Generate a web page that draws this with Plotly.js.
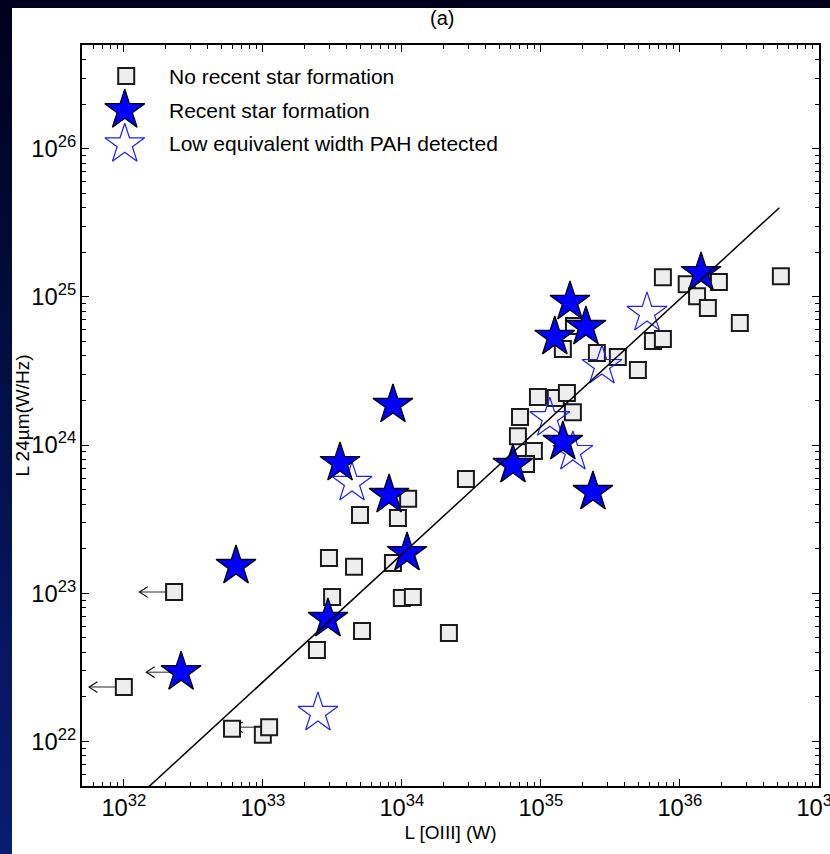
<!DOCTYPE html>
<html>
<head>
<meta charset="utf-8">
<script src="https://cdn.plot.ly/plotly-3.0.1.min.js"></script>
<style>
  html, body { margin: 0; padding: 0; }
  body {
    width: 830px; height: 854px; overflow: hidden; position: relative;
    background: linear-gradient(to bottom, #00001c 0%, #03104a 50%, #0a1c72 100%);
  }
  #chart { position: absolute; left: 12px; top: 8px; width: 818px; height: 846px; background: #fff; }
</style>
</head>
<body>
<div id="chart"></div>
<script>
// L[OIII] (W) and L 24um (W/Hz) per galaxy class
const noSfX = [6.0e32, 1.0e33, 2.45e33, 2.99e33, 3.15e33, 4.53e33, 5.0e33, 5.17e33, 8.63e33,
  9.37e33, 1.11e34, 1.0e34, 1.2e34, 2.18e34, 2.89e34, 7.08e34, 6.84e34, 8.91e34, 7.82e34,
  9.53e34, 1.28e35, 1.54e35, 1.7e35, 1.44e35, 1.73e35, 2.53e35, 3.58e35, 4.99e35, 6.4e35,
  7.55e35, 7.55e35, 1.12e36, 1.91e36, 1.33e36, 1.59e36, 2.7e36, 5.33e36];
const noSfY = [1.22e22, 1.11e22, 4.15e22, 1.73e23, 9.44e22, 1.51e23, 3.38e23, 5.57e22, 1.6e23,
  3.22e23, 4.34e23, 9.3e22, 9.44e22, 5.4e22, 5.92e23, 1.55e24, 1.15e24, 9.12e23, 7.46e23,
  2.11e24, 2.08e24, 2.25e24, 1.67e24, 4.46e24, 6.37e24, 4.19e24, 3.94e24, 3.21e24, 5.05e24,
  5.2e24, 1.36e25, 1.22e25, 1.26e25, 1.01e25, 8.42e24, 6.67e24, 1.38e25];

// no-SF upper limits in L[OIII]
const noSfLimX = [2.3e32, 1.0e32, 1.11e33];
const noSfLimY = [1.02e23, 2.33e22, 1.25e22];

const sfX = [6.41e32, 2.94e33, 3.59e33, 8.09e33, 8.63e33, 1.09e34, 6.3e34, 1.44e35, 2.37e35,
  1.26e35, 1.62e35, 2.11e35, 1.42e36];
const sfY = [1.53e23, 6.72e22, 7.57e23, 4.61e23, 1.87e24, 1.87e23, 7.35e23, 1.05e24, 4.83e23,
  5.37e24, 9.25e24, 6.27e24, 1.45e25];

// recent-SF upper limit in L[OIII]
const sfLimX = [2.58e32];
const sfLimY = [2.94e22];

const pahX = [2.49e33, 4.38e33, 1.16e35, 1.7e35, 2.75e35, 5.8e35];
const pahY = [1.56e22, 5.56e23, 1.52e24, 8.99e23, 3.42e24, 7.8e24];

// fitted relation, end points
const fitX = [1.0e32, 5.2e36];
const fitY = [3.47e21, 4.0e25];

const panelLabel = '(a)';
const legendLabels = ['No recent star formation', 'Recent star formation', 'Low equivalent width PAH detected'];

const FONT = 'Liberation Sans, Arial, Helvetica, sans-serif';
const squareMarker = { symbol: 'square', size: 16, color: '#eeeeee', line: { color: '#1a1a1a', width: 2 } };
const starMarker = { symbol: 'star', size: 30, color: '#0000ff', line: { color: '#000000', width: 1.3 } };
const openStarMarker = { symbol: 'star-open', size: 30, color: '#1f1fff', line: { color: '#1f1fff', width: 1.2 } };

// upper-limit arrows toward lower L[OIII]: shaft length and chevron arms in decades
const ARROW_DEX = 0.25, HEAD_DX = 0.06, HEAD_DY = 0.036;
const limX = noSfLimX.concat(sfLimX), limY = noSfLimY.concat(sfLimY);
const shaftX = [], shaftY = [], headX = [], headY = [];
limX.forEach((xv, i) => {
  const yv = limY[i];
  const tip = xv * Math.pow(10, -ARROW_DEX);
  shaftX.push(xv, tip, null); shaftY.push(yv, yv, null);
  const back = tip * Math.pow(10, HEAD_DX);
  headX.push(back, tip, back, null);
  headY.push(yv * Math.pow(10, HEAD_DY), yv, yv * Math.pow(10, -HEAD_DY), null);
});

const traces = [
  { x: shaftX, y: shaftY, mode: 'lines', type: 'scatter', line: { color: '#707070', width: 1.5 },
    hoverinfo: 'skip', showlegend: false, connectgaps: false },
  { x: headX, y: headY, mode: 'lines', type: 'scatter', line: { color: '#000', width: 1.1 },
    hoverinfo: 'skip', showlegend: false, connectgaps: false },
  { x: noSfX.concat(noSfLimX), y: noSfY.concat(noSfLimY), mode: 'markers', type: 'scatter',
    marker: squareMarker, name: legendLabels[0], showlegend: false },
  { x: pahX, y: pahY, mode: 'markers', type: 'scatter', marker: openStarMarker, name: legendLabels[2], showlegend: false },
  { x: sfX.concat(sfLimX), y: sfY.concat(sfLimY), mode: 'markers', type: 'scatter',
    marker: starMarker, name: legendLabels[1], showlegend: false },
  { x: fitX, y: fitY, mode: 'lines', type: 'scatter', line: { color: '#000', width: 1.5 },
    hoverinfo: 'skip', showlegend: false },
  // key symbols on an overlay frame
  { x: [0.06], y: [0.958], xaxis: 'x2', yaxis: 'y2', mode: 'markers', marker: squareMarker, hoverinfo: 'skip', showlegend: false },
  { x: [0.058], y: [0.912], xaxis: 'x2', yaxis: 'y2', mode: 'markers', marker: starMarker, hoverinfo: 'skip', showlegend: false },
  { x: [0.058], y: [0.866], xaxis: 'x2', yaxis: 'y2', mode: 'markers', marker: openStarMarker, hoverinfo: 'skip', showlegend: false }
];

const annotations = legendLabels.map((t, i) => ({
  xref: 'paper', yref: 'paper', x: 0.116, y: [0.958, 0.912, 0.867][i], xanchor: 'left', yanchor: 'middle',
  text: t, showarrow: false, font: { family: FONT, size: 21, color: '#000' }
}));
annotations.push({
  xref: 'paper', yref: 'paper', x: 0.4885, y: 1.036, xanchor: 'center', yanchor: 'middle',
  text: panelLabel, showarrow: false, font: { family: FONT, size: 20, color: '#000' }
});

const axisCommon = {
  type: 'log', dtick: 1, showgrid: false, zeroline: false,
  ticks: 'inside', ticklen: 7, tickwidth: 1, tickcolor: '#000',
  showline: true, linecolor: '#000', linewidth: 2, mirror: 'ticks',
  exponentformat: 'power', ticklabeloverflow: 'allow',
  minor: { ticks: 'inside', ticklen: 4, tickwidth: 1, tickcolor: '#000', dtick: 'D1', showgrid: false },
  tickfont: { family: FONT, size: 19, color: '#000' }
};

const layout = {
  width: 818, height: 846,
  margin: { l: 70, r: 11, t: 37, b: 68 },
  paper_bgcolor: '#ffffff', plot_bgcolor: '#ffffff',
  font: { family: FONT, color: '#000' },
  xaxis: Object.assign({}, axisCommon, { range: [31.699, 37.001],
    title: { text: 'L [OIII] (W)', font: { family: FONT, size: 19, color: '#000' }, standoff: 6 } }),
  yaxis: Object.assign({}, axisCommon, { range: [21.7, 26.7],
    title: { text: 'L 24µm(W/Hz)', font: { family: FONT, size: 19, color: '#000' }, standoff: 8 } }),
  xaxis2: { overlaying: 'x', range: [0, 1], visible: false, fixedrange: true },
  yaxis2: { overlaying: 'y', range: [0, 1], visible: false, fixedrange: true },
  annotations: annotations,
  showlegend: false
};

Plotly.newPlot('chart', traces, layout, { staticPlot: true });
</script>
</body>
</html>
